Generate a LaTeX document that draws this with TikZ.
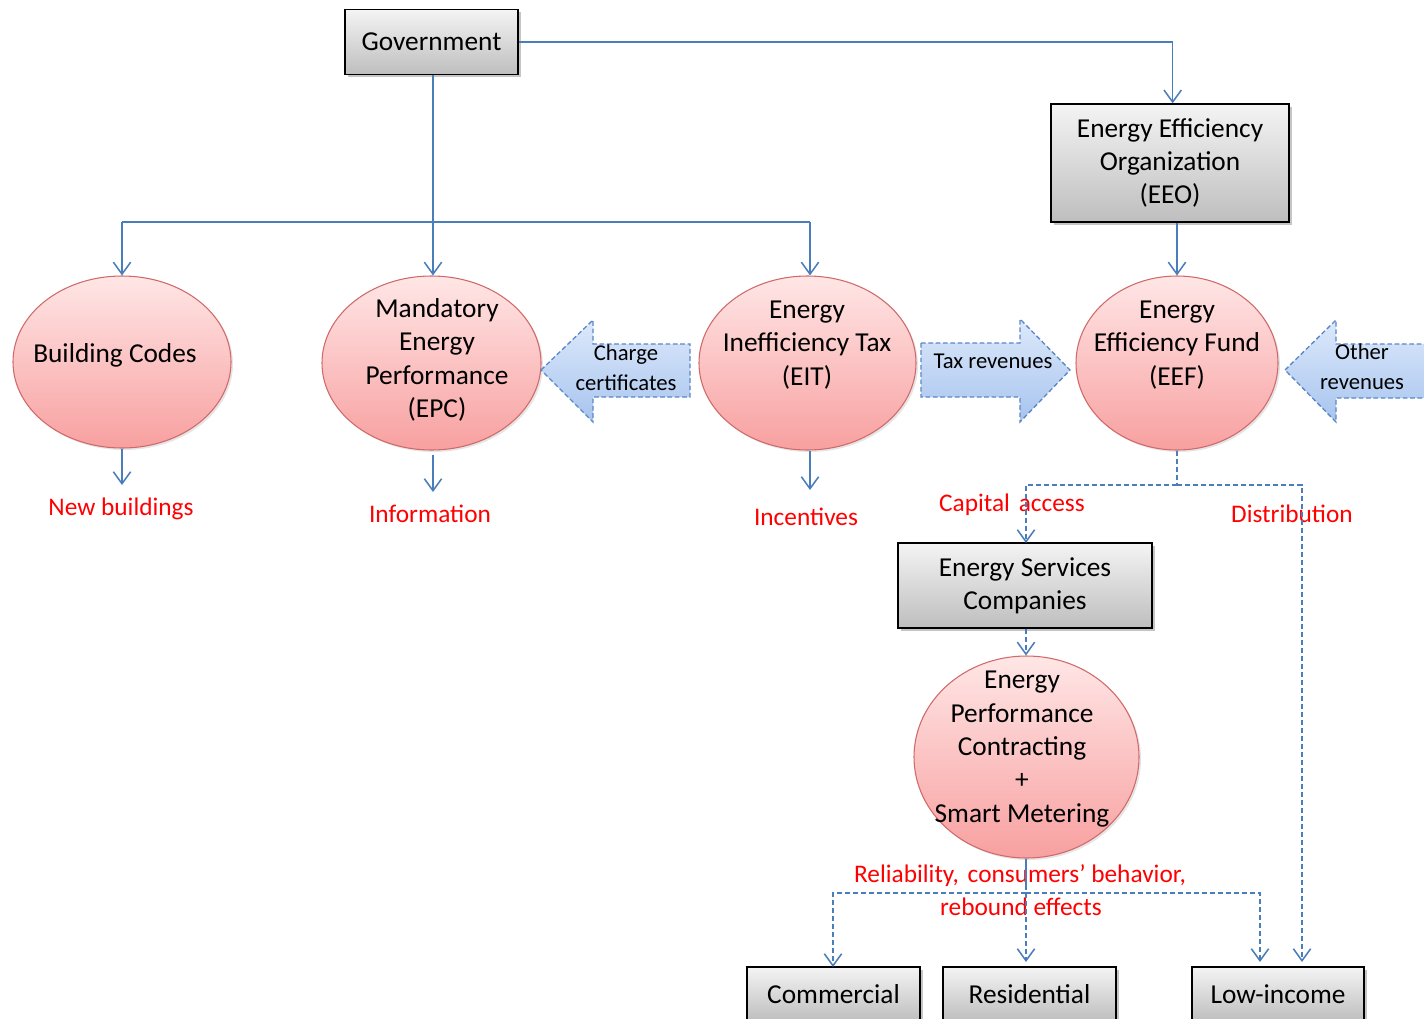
\documentclass[tikz,border=0pt]{standalone}
\usepackage{fontspec}
\setmainfont{Carlito}
\usetikzlibrary{shapes.geometric,arrows.meta,shadows}
\definecolor{lineblue}{HTML}{4A7EBB}
\definecolor{labelred}{HTML}{FF0000}
\definecolor{ovaltop}{HTML}{FFE6E6}
\definecolor{ovalbot}{HTML}{F8A0A0}
\definecolor{ovalline}{HTML}{D06A6A}
\definecolor{boxtop}{HTML}{F4F4F4}
\definecolor{boxbot}{HTML}{BEBEBE}
\definecolor{bluetop}{HTML}{DDE9FB}
\definecolor{bluebot}{HTML}{A7C4EE}
\definecolor{bluedash}{HTML}{5B87C6}
\def\pxu{0.75pt}
\begin{document}
\begin{tikzpicture}[x=0.75pt,y=-0.75pt,
  box/.style={rectangle, draw=black, line width=1pt, top color=boxtop, bottom color=boxbot,
    inner sep=0pt, align=center, font=\fontsize{20.5}{25}\selectfont,
    drop shadow={opacity=0.45, shadow xshift=2pt, shadow yshift=-2pt}},
  oval/.style={ellipse, draw=ovalline, line width=0.8pt, top color=ovaltop, bottom color=ovalbot,
    inner sep=0pt, drop shadow={opacity=0.2, shadow xshift=1.5pt, shadow yshift=-1.5pt}},
  ovaltext/.style={align=center, inner sep=0pt, font=\fontsize{20.5}{25}\selectfont},
  redlabel/.style={text=labelred, inner sep=0pt, font=\fontsize{19}{23.5}\selectfont},
  blockarrow/.style={draw=bluedash, line width=1pt, dash pattern=on 3.5pt off 2pt,
    top color=bluetop, bottom color=bluebot},
  blocktext/.style={align=center, inner sep=0pt, font=\fontsize{17}{22.5}\selectfont},
  conn/.style={draw=lineblue, line width=1.15pt},
  dconn/.style={conn, dash pattern=on 4pt off 2pt},
  tip/.style={-{Straight Barb[length=9pt,width=13pt,line width=1.15pt]}}
]
\clip (0,0) rectangle (1424,1018);
\fill[white] (0,0) rectangle (1424,1018);

% boxes
\node[box, minimum width=173*\pxu, minimum height=65*\pxu] (gov) at (431.5,42) {Government};
\node[box, minimum width=238*\pxu, minimum height=118*\pxu] (eeo) at (1170,163) {Energy Efficiency\\Organization\\(EEO)};
\node[box, minimum width=254*\pxu, minimum height=85*\pxu] (esco) at (1025,585.5) {Energy Services\\Companies};
\node[box, minimum width=173*\pxu, minimum height=54*\pxu] (comm) at (833.5,994) {Commercial};
\node[box, minimum width=173*\pxu, minimum height=54*\pxu] (res) at (1029.5,994) {Residential};
\node[box, minimum width=172*\pxu, minimum height=54*\pxu] (low) at (1278,994) {Low-income};

% ellipses
\node[oval, minimum width=218*\pxu, minimum height=172*\pxu] (bc) at (122,362) {};
\node[ovaltext] (bcT) at (115,355) {Building Codes};
\node[oval, minimum width=219*\pxu, minimum height=174*\pxu] (epc) at (431.5,363) {};
\node[ovaltext] (epcT) at (437,360) {Mandatory\\Energy\\Performance\\(EPC)};
\node[oval, minimum width=217*\pxu, minimum height=174*\pxu] (eit) at (807.5,363) {};
\node[ovaltext] (eitT) at (807,345) {Energy\\Inefficiency Tax\\(EIT)};
\node[oval, minimum width=202*\pxu, minimum height=174*\pxu] (eef) at (1177,363) {};
\node[ovaltext] (eefT) at (1177,345) {Energy\\Efficiency Fund\\(EEF)};
\node[oval, minimum width=225*\pxu, minimum height=202*\pxu] (epcsm) at (1026.5,757) {};
\node[ovaltext] (epcsmT) at (1022,749) {Energy\\Performance\\Contracting\\+\\Smart Metering};

% block arrows
\path[blockarrow] (541,370) -- (593,320) -- (593,344) -- (690,344) -- (690,397) -- (593,397) -- (593,422) -- cycle;
\node[blocktext] (chg) at (626,368) {Charge\\certificates};
\path[blockarrow] (921,343) -- (1020,343) -- (1020,319) -- (1070,370) -- (1020,422) -- (1020,397) -- (921,397) -- cycle;
\node[blocktext] (tax) at (993,361) {Tax revenues};
\path[blockarrow] (1285,370) -- (1336,320) -- (1336,344) -- (1440,344) -- (1440,398) -- (1336,398) -- (1336,422) -- cycle;
\node[blocktext] (oth) at (1362,367) {Other\\revenues};

% red labels
\node[redlabel] (nb) at (121,509) {New buildings};
\node[redlabel] (info) at (430,514) {Information};
\node[redlabel] (inc) at (806,517) {Incentives};
\node[redlabel] (cap) at (1012,505) {Capital\hspace{0.12em} access};
\node[redlabel] (dist) at (1292,514) {Distribution};
\node[redlabel] (rel) at (1020,876) {Reliability,\hspace{0.12em} consumers’ behavior,};
\node[redlabel] (reb) at (1021,907) {rebound effects};

% coordinates
\coordinate (hub) at (433,222);
\coordinate (bcEnd) at (122,485);
\coordinate (infoEnd) at (433,492);
\coordinate (incEnd) at (810,490);
\coordinate (split) at (1177,485);
\coordinate (escoIn) at (1026,543);
\coordinate (distEnd) at (1302,962);
\coordinate (split2) at (1026,893);
\coordinate (commEnd) at (833,967);
\coordinate (resEnd) at (1026,962);
\coordinate (lowEnd) at (1260,962);

% solid connectors
\draw[conn,tip] (gov.east) -| ([xshift=2pt]eeo.north);
\draw[conn] (hub -| bc.north) -- (hub -| incEnd);
\draw[conn,tip] (gov.south -| hub) -- (epc.north -| hub);
\draw[conn,tip] (hub -| bc.north) -- (bc.north);
\draw[conn,tip] (hub -| incEnd) -- (eit.north -| incEnd);
\draw[conn,tip] (eeo.south -| eef.north) -- (eef.north);
\draw[conn,tip] (bc.south) -- (bcEnd);
\draw[conn,tip] (infoEnd |- 0,455) -- (infoEnd);
\draw[conn,tip] (eit.south -| incEnd) -- (incEnd);
\draw[conn] (epcsm.south -| split2) -- (1026,885);

% dashed connectors
\draw[dconn] (eef.south) -- (split);
\draw[dconn,tip] (split) -| (escoIn);
\draw[dconn,tip] (split) -| (distEnd);
\draw[dconn,tip] (esco.south -| escoIn) -- (epcsm.north -| escoIn);
\draw[dconn] (1026,885) -- (split2);
\draw[dconn,tip] (split2) -| (commEnd);
\draw[dconn,tip] (split2) -- (resEnd);
\draw[dconn,tip] (split2) -| (lowEnd);
\end{tikzpicture}
\end{document}
